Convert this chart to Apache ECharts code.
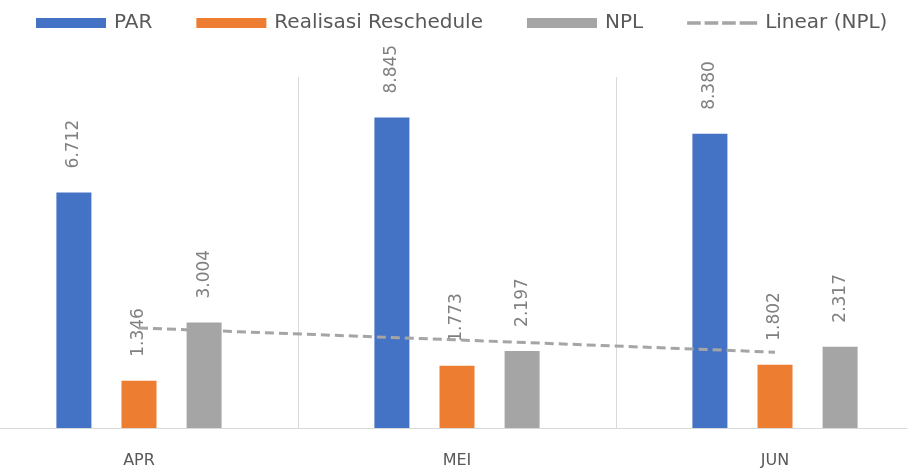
<!DOCTYPE html>
<html>
<head>
<meta charset="utf-8">
<script src="https://cdn.jsdelivr.net/npm/echarts@6/dist/echarts.min.js"></script>
<style>
  html, body { margin: 0; padding: 0; background: #ffffff; overflow: hidden; width: 907px; height: 470px; }
  /* plot area runs slightly past both page edges */
  #chart { width: 954px; height: 470px; margin-left: -20px; }
</style>
</head>
<body>
<div id="chart"></div>
<script>
// Monthly figures
const months = ['APR', 'MEI', 'JUN'];
const par = [6.712, 8.845, 8.380];
const realisasiReschedule = [1.346, 1.773, 1.802];
const npl = [3.004, 2.197, 2.317];
// Linear trend of NPL at each month
const linearNpl = [2.85, 2.51, 2.16];

const font = 'DejaVu Sans, sans-serif';
const gray = '#A5A5A5';

// Four short dashes for the trend-line legend key (tiny corner segments fix the 72x10 box)
const dashIcon = 'path://M0,0L0.01,0L0,0.01Z M72,10L71.99,10L72,9.99Z ' +
  'M0,3.3H14V6.7H0Z M18,3.3H32V6.7H18Z M36,3.3H50V6.7H36Z M54,3.3H72V6.7H54Z';

function valueLabel() {
  return {
    show: true,
    position: 'top',
    rotate: 90,
    align: 'left',
    verticalAlign: 'middle',
    distance: 24,
    color: '#808080',
    fontSize: 17,
    fontFamily: font,
    formatter: p => p.value.toFixed(3)
  };
}

const chart = echarts.init(document.getElementById('chart'), null, { renderer: 'canvas' });
chart.setOption({
  animation: false,
  backgroundColor: '#ffffff',
  legend: {
    left: 51,
    top: 8,
    itemWidth: 70,
    itemHeight: 10,
    itemGap: 44,
    textStyle: { color: '#595959', fontSize: 20, fontFamily: font, padding: [0, 0, 0, 3] },
    data: [
      { name: 'PAR', icon: 'rect' },
      { name: 'Realisasi Reschedule', icon: 'rect' },
      { name: 'NPL', icon: 'rect' },
      { name: 'Linear (NPL)', icon: dashIcon, itemStyle: { color: gray } }
    ]
  },
  grid: { left: 0, right: 0, top: 77, bottom: 42, containLabel: false },
  xAxis: {
    type: 'category',
    data: months,
    boundaryGap: true,
    axisLine: { show: true, lineStyle: { color: '#d9d9d9', width: 1 } },
    axisTick: { show: false },
    splitLine: { show: true, lineStyle: { color: '#d9d9d9', width: 1 } },
    axisLabel: { color: '#595959', fontSize: 16, fontFamily: font, margin: 25 }
  },
  yAxis: {
    type: 'value',
    min: 0,
    max: 10,
    show: false,
    splitLine: { show: false }
  },
  series: [
    {
      name: 'PAR', type: 'bar', data: par,
      barWidth: 35, barGap: '86%',
      itemStyle: { color: '#4472C4' },
      label: valueLabel()
    },
    {
      name: 'Realisasi Reschedule', type: 'bar', data: realisasiReschedule,
      barWidth: 35, barGap: '86%',
      itemStyle: { color: '#ED7D31' },
      label: valueLabel()
    },
    {
      name: 'NPL', type: 'bar', data: npl,
      barWidth: 35, barGap: '86%',
      itemStyle: { color: gray },
      label: valueLabel()
    },
    {
      name: 'Linear (NPL)', type: 'line', data: linearNpl,
      symbol: 'none', z: 5,
      lineStyle: { color: gray, width: 3, type: [9, 5] },
      itemStyle: { color: gray }
    }
  ]
});
</script>
</body>
</html>
